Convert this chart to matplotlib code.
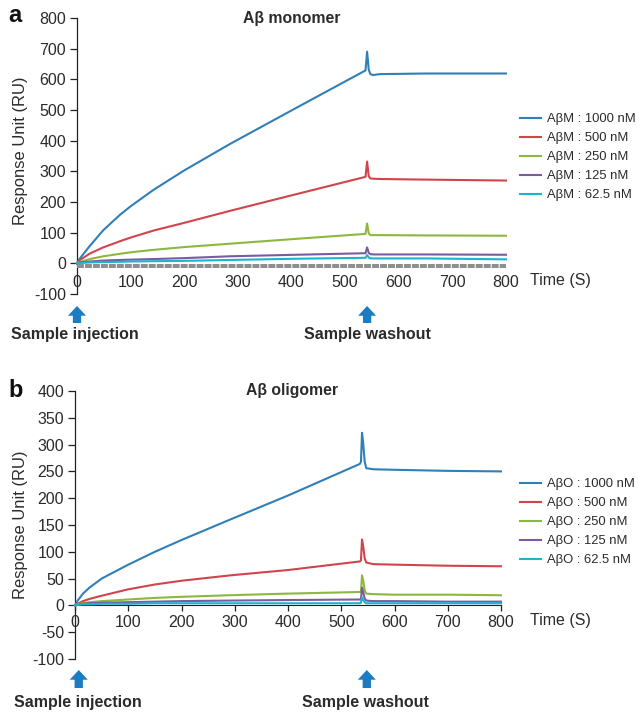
import matplotlib
matplotlib.use('Agg')
import matplotlib.pyplot as plt
from matplotlib.transforms import blended_transform_factory

plt.rcParams['font.family'] = ['Liberation Sans', 'DejaVu Sans']
plt.rcParams['axes.unicode_minus'] = False

W, H = 638, 713
TXT = '#2b2b2b'
COLORS = ['#2f7fb8', '#d2444c', '#8db83f', '#7b5a9f', '#1ab4cf']
CONC = ['1000', '500', '250', '125', '62.5']

# Aβ monomer
m_t = [0, 5, 24, 49, 80, 100, 143, 200, 285, 410, 538, 541, 544, 547, 552, 565, 650, 800]
m_1000 = [0, 15, 57, 108, 158, 186, 240, 303, 389, 508, 629, 690, 632, 617, 614, 617, 619, 619]
m_500 = [0, 10, 32, 52, 72, 84, 107, 132, 171, 226, 282, 332, 284, 277, 276, 275, 273, 270]
m_250 = [0, 4, 14, 23, 31, 36, 44, 53, 64, 80, 96, 130, 98, 92, 92, 92, 91, 90]
m_125 = [0, 3, 6, 9, 11, 12, 14, 17, 23, 28, 33, 52, 34, 30, 29, 29, 29, 28]
m_62 = [0, 1, 3, 4, 5, 6, 7, 8, 11, 15, 18, 27, 19, 16, 16, 16, 16, 13]

# Aβ oligomer
o_t = [0, 5, 15, 27, 50, 100, 150, 200, 291, 400, 535, 537, 539, 541, 544, 547, 560, 600, 700, 800]
o_1000 = [0, 9, 22, 33, 50, 76, 100, 122, 160, 205, 264, 268, 322, 305, 268, 256, 254, 253, 251, 250]
o_500 = [0, 3, 8, 12, 18, 30, 39, 46, 56, 66, 82, 84, 123, 112, 88, 80, 77, 76, 74, 73]
o_250 = [0, 2, 4, 6, 8, 11, 14, 16, 19, 22, 25, 25, 56, 48, 28, 22, 21, 20, 20, 19]
o_125 = [0, 1, 3, 4, 5, 6, 7, 8, 9, 10, 11, 11, 33, 26, 13, 9, 8, 8, 7, 7]
o_62 = [0, 1, 2, 2, 3, 3, 4, 4, 4, 4, 4, 5, 15, 11, 6, 4, 4, 4, 4, 4]

X_TICKS = list(range(0, 801, 100))


def make_axes(left, right, top, bottom):
    return fig.add_axes([left / W, 1 - bottom / H, (right - left) / W, (bottom - top) / H])


def style(ax, ymax, ystep, label_y):
    ax.set_xlim(0, 800)
    ax.set_ylim(-100, ymax)
    ax.set_xticks(X_TICKS)
    ax.set_yticks(list(range(-100, ymax + 1, ystep)))
    for s in ('top', 'right'):
        ax.spines[s].set_visible(False)
    ax.spines['left'].set_color('#222222')
    ax.spines['left'].set_linewidth(0.9)
    ax.tick_params(axis='y', length=5, width=0.9, labelsize=11.5, labelcolor=TXT, pad=3, color='#222222')
    ax.set_ylabel('Response Unit (RU)', fontsize=11.9, color=TXT)
    ax.yaxis.set_label_coords(28 / W, 1 - label_y / H, transform=fig.transFigure)
    ax.patch.set_alpha(0)


def arrow(ax, x, y0, y1):
    tr = blended_transform_factory(ax.transData, fig.transFigure)
    ax.annotate('', xy=(x, 1 - y0 / H), xytext=(x, 1 - y1 / H), xycoords=tr, textcoords=tr,
                annotation_clip=False,
                arrowprops=dict(facecolor='#1b7cc4', edgecolor='none', width=6,
                                headwidth=13, headlength=7, shrink=0))


def ftext(x, y, s, **kw):
    fig.text(x / W, 1 - y / H, s, va='center', color=kw.pop('color', TXT), **kw)


def legend(ax, handles, x, y):
    ax.legend(handles=handles, loc='upper left', bbox_to_anchor=(x / W, 1 - y / H),
              bbox_transform=fig.transFigure, frameon=False, fontsize=9.4,
              handlelength=1.6, handletextpad=0.45, labelspacing=0.53,
              borderpad=0, borderaxespad=0, labelcolor=TXT)


fig = plt.figure(figsize=(W / 100, H / 100), dpi=100)

# panel a
ax1 = make_axes(77, 506, 18, 294)
style(ax1, 800, 100, 151)
h1 = []
for vals, c, lab in zip([m_1000, m_500, m_250, m_125, m_62], COLORS, CONC):
    h1 += ax1.plot(m_t, vals, color=c, lw=1.5, label=f'AβM : {lab} nM', clip_on=False, zorder=3)
sp = ax1.spines['bottom']
sp.set_position(('data', -10))
sp.set_color('#8f8f8f')
sp.set_linewidth(2.9)
sp.set_linestyle((0, (1.72, 0.26)))
sp.set_capstyle('butt')
ax1.tick_params(axis='x', length=0, labelsize=11.5, labelcolor=TXT, pad=6.2)
legend(ax1, h1, 520, 113)
arrow(ax1, 0, 306, 323)
arrow(ax1, 541, 306, 323)

# panel b
ax2 = make_axes(75, 501, 391, 659)
style(ax2, 400, 50, 525)
h2 = []
for vals, c, lab in zip([o_1000, o_500, o_250, o_125, o_62], COLORS, CONC):
    h2 += ax2.plot(o_t, vals, color=c, lw=1.5, label=f'AβO : {lab} nM', clip_on=False, zorder=3)
ax2.spines['bottom'].set_position(('data', 0))
ax2.spines['bottom'].set_color('#222222')
ax2.tick_params(axis='x', length=4, width=0.9, color='#222222',
                labelsize=11.5, labelcolor=TXT, pad=3)
legend(ax2, h2, 520, 478)
arrow(ax2, 7, 670, 688)
arrow(ax2, 548, 670, 688)

# annotations
ftext(8, 16, 'a', fontsize=17, fontweight='bold', color='#111111')
ftext(8, 391, 'b', fontsize=17, fontweight='bold', color='#111111')
ftext(292, 18, 'Aβ monomer', fontsize=11.3, fontweight='bold', ha='center')
ftext(292, 391, 'Aβ oligomer', fontsize=11.3, fontweight='bold', ha='center')
ftext(530, 281, 'Time (S)', fontsize=11.5)
ftext(530, 621, 'Time (S)', fontsize=11.5)
ftext(11, 335, 'Sample injection', fontsize=11.5, fontweight='bold')
ftext(367, 335, 'Sample washout', fontsize=11.5, fontweight='bold', ha='center')
ftext(14, 702, 'Sample injection', fontsize=11.5, fontweight='bold')
ftext(365, 702, 'Sample washout', fontsize=11.5, fontweight='bold', ha='center')

fig.savefig('out.png', dpi=100)
